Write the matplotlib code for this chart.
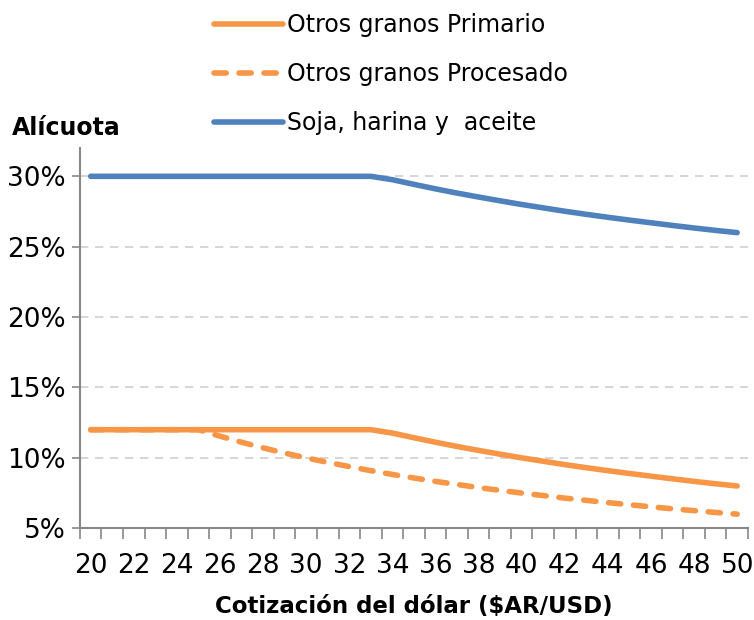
import numpy as np
import matplotlib
matplotlib.use("Agg")
import matplotlib.pyplot as plt
from matplotlib.ticker import FixedLocator, FuncFormatter

plt.rcParams['font.family'] = ['DejaVu Sans']

# cotizacion del dolar (categorias)
cotizacion = list(range(20, 51))

# alicuotas (%)
otros_primario = [12.0] * 14 + [11.76, 11.43, 11.11, 10.81, 10.53, 10.26, 10.0,
                                9.76, 9.52, 9.30, 9.09, 8.89, 8.70, 8.51, 8.33,
                                8.16, 8.0]
otros_procesado = [12.0] * 6 + [11.54, 11.11, 10.71, 10.34, 10.0, 9.68, 9.38,
                                9.09, 8.82, 8.57, 8.33, 8.11, 7.89, 7.69, 7.5,
                                7.32, 7.14, 6.98, 6.82, 6.67, 6.52, 6.38, 6.25,
                                6.12, 6.0]
soja = [30.0] * 14 + [29.76, 29.43, 29.11, 28.81, 28.53, 28.26, 28.0, 27.76,
                      27.52, 27.30, 27.09, 26.89, 26.70, 26.51, 26.33, 26.16,
                      26.0]

y_ticks = [5, 10, 15, 20, 25, 30]

naranja = '#F79646'
azul = '#4F81BD'

fig = plt.figure(figsize=(7.54, 6.2), dpi=100)
ax = fig.add_axes([0.106, 0.148, 0.886, 0.613])

xpos = np.arange(len(cotizacion))
l1, = ax.plot(xpos, otros_primario, color=naranja, lw=4.0, solid_capstyle='round',
              label='Otros granos Primario', zorder=3)
l2, = ax.plot(xpos, otros_procesado, color=naranja, lw=4.0, ls=(0, (2.2, 2.3)),
              dash_capstyle='round', label='Otros granos Procesado', zorder=3)
l3, = ax.plot(xpos, soja, color=azul, lw=4.0, solid_capstyle='round',
              label='Soja, harina y  aceite', zorder=3)

ax.set_xlim(-0.5, len(cotizacion) - 0.5)
ax.set_ylim(5, 32)

# eje de categorias: marcas entre categorias, etiquetas cada 2
ax.xaxis.set_major_locator(FixedLocator(xpos[::2]))
ax.set_xticklabels([str(c) for c in cotizacion[::2]])
ax.xaxis.set_minor_locator(FixedLocator(np.arange(-0.5, len(cotizacion), 1)))
ax.tick_params(axis='x', which='major', length=0, pad=18, labelsize=19)
ax.tick_params(axis='x', which='minor', length=8, width=1.2, color='#888888',
               direction='out')

ax.set_yticks(y_ticks)
ax.yaxis.set_major_formatter(FuncFormatter(lambda v, p: '%d%%' % v))
ax.tick_params(axis='y', length=6, width=1.2, color='#888888', pad=4,
               labelsize=19)

for v in y_ticks[1:]:
    ax.axhline(v, color='#D0D0D0', lw=1.2, ls=(0, (5, 4)), zorder=1)

for s in ['top', 'right']:
    ax.spines[s].set_visible(False)
for s in ['left', 'bottom']:
    ax.spines[s].set_color('#888888')
    ax.spines[s].set_linewidth(1.5)

ax.set_xlabel('Cotización del dólar ($AR/USD)', fontsize=16.5, fontweight='bold',
              labelpad=11)
fig.text(0.016, 0.793, 'Alícuota', fontsize=17, fontweight='bold',
         ha='left', va='center')

fig.legend(handles=[l1, l2, l3], loc='upper left', bbox_to_anchor=(0.256, 1.013),
           frameon=False, fontsize=17, handlelength=2.9, handletextpad=0.2,
           labelspacing=1.05)

plt.savefig('out.png', dpi=100)
